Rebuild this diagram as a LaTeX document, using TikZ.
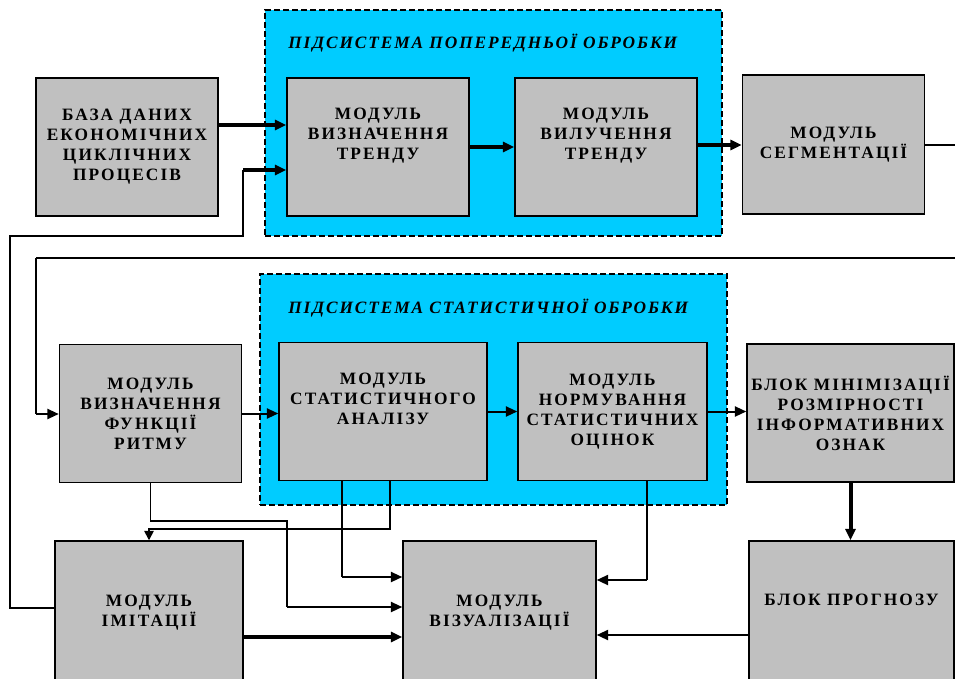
\documentclass[tikz,border=0pt]{standalone}
\usepackage{fontspec}
\setmainfont{Liberation Serif}
\newfontfamily\blockfont[LetterSpace=12]{Liberation Serif}
\newfontfamily\titlefont[LetterSpace=11]{Liberation Serif}
\usetikzlibrary{arrows.meta,positioning,calc}
\definecolor{subcyan}{HTML}{00CCFF}
\definecolor{blockgray}{HTML}{C0C0C0}

\begin{document}
\begin{tikzpicture}[x=0.75pt,y=-0.75pt,
 block/.style={draw,line width=1.1pt,fill=blockgray,minimum width=136.5pt,minimum height=103.5pt,align=center,inner sep=0pt,font=\blockfont\bfseries\fontsize{13}{15}\selectfont},
 subsys/.style={draw,line width=1.5pt,fill=subcyan,dash pattern=on 4.5pt off 2.25pt},
 title/.style={anchor=west,inner sep=0pt,font=\titlefont\bfseries\itshape\fontsize{13}{15}\selectfont},
 line/.style={line width=0.9pt},
 arrow/.style={-{Triangle[length=8.5pt,width=7.5pt]},line width=2.4pt},
 arrowmid/.style={-{Triangle[length=8.5pt,width=7.5pt]},line width=1.5pt},
 arrowthin/.style={-{Triangle[length=7pt,width=7pt]},line width=1.2pt}
]
\useasboundingbox (0,0) rectangle (955,678);
\clip (0,0) rectangle (955,678);
\fill[white] (0,0) rectangle (955,678);
% subsystems
\node[subsys,minimum width=342.75pt,minimum height=169.5pt] (pre) at (493.5,123) {};
\node[subsys,minimum width=350.25pt,minimum height=173.25pt] (stats) at (493.5,389.5) {};
\node[title] (pretitle) at (288,43) {ПІДСИСТЕМА ПОПЕРЕДНЬОЇ ОБРОБКИ};
\node[title] (stattitle) at (288,308) {ПІДСИСТЕМА СТАТИСТИЧНОЇ ОБРОБКИ};
% top row
\node[block] (db) at (127,147) {БАЗА ДАНИХ\\ЕКОНОМІЧНИХ\\ЦИКЛІЧНИХ\\ПРОЦЕСІВ};
\node[block] (trend) at (378,147) {МОДУЛЬ\\ВИЗНАЧЕННЯ\\ТРЕНДУ\\\strut};
\node[block] (detrend) at (606,147) {МОДУЛЬ\\ВИЛУЧЕННЯ\\ТРЕНДУ\\\strut};
\node[block,minimum height=104.25pt] (segm) at (833.5,144.5) {МОДУЛЬ\\СЕГМЕНТАЦІЇ};
% middle row
\node[block] (rhythm) at (150.5,413.5) {МОДУЛЬ\\ВИЗНАЧЕННЯ\\ФУНКЦІЇ\\РИТМУ};
\node[block,minimum width=156pt] (stat) at (383,411.5) {МОДУЛЬ\\СТАТИСТИЧНОГО\\АНАЛІЗУ\\\strut};
\node[block,minimum width=141.75pt] (norm) at (612.5,411.5) {МОДУЛЬ\\НОРМУВАННЯ\\СТАТИСТИЧНИХ\\ОЦІНОК};
\node[block,minimum width=155.25pt] (minim) at (850.5,413) {БЛОК МІНІМІЗАЦІЇ\\РОЗМІРНОСТІ\\ІНФОРМАТИВНИХ\\ОЗНАК};
% bottom row
\node[block,minimum width=141pt,minimum height=108pt] (imit) at (149,613) {МОДУЛЬ\\ІМІТАЦІЇ};
\node[block,minimum width=144.75pt,minimum height=108pt] (visual) at (499.5,613) {МОДУЛЬ\\ВІЗУАЛІЗАЦІЇ};
\node[block,minimum width=153.75pt,minimum height=108pt] (fcst) at (851.5,613) {БЛОК ПРОГНОЗУ\\\strut};
% connectors
\draw[arrow] (db.east |- 0,125) -- (trend.west |- 0,125);
\draw[line] (imit.west |- 0,608) -| (10,236) -| (243,170) coordinate (back);
\draw[arrow] (back) -- (trend.west |- back);
\draw[arrow] (trend) -- (detrend);
\draw[arrow] (detrend.east |- 0,145) -- (segm.west |- 0,145);
\draw[line] (segm.east |- 0,145) -- (975,145) |- (36,258) coordinate (feed);
\draw[line] (feed) -- (36,414) coordinate (feedin);
\draw[arrowmid] (feedin) -- (rhythm.west |- feedin);
\draw[arrowmid] (rhythm.east) -- (rhythm.east -| stat.west);
\draw[arrowmid] (stat) -- (norm);
\draw[arrowmid] (norm.east) -- (norm.east -| minim.west);
\draw[arrow,line width=3pt] (minim.south) -- (minim.south |- fcst.north);
\draw[line] (rhythm.south) |- (287,521) -- (287,607) coordinate (r2v);
\draw[arrowmid] (r2v) -- (visual.west |- r2v);
\draw[arrowthin] (stat.south -| 390,0) |- (imit.north |- 0,529) -- (imit.north);
\draw[line] (stat.south -| 342,0) -- (342,577) coordinate (s2v);
\draw[arrowmid] (s2v) -- (visual.west |- s2v);
\draw[line] (norm.south -| 647,0) -- (647,580) coordinate (n2v);
\draw[arrowmid] (n2v) -- (visual.east |- n2v);
\draw[arrow] (imit.east |- 0,637) -- (visual.west |- 0,637);
\draw[arrowmid] (fcst.west |- 0,635) -- (visual.east |- 0,635);
\end{tikzpicture}
\end{document}
